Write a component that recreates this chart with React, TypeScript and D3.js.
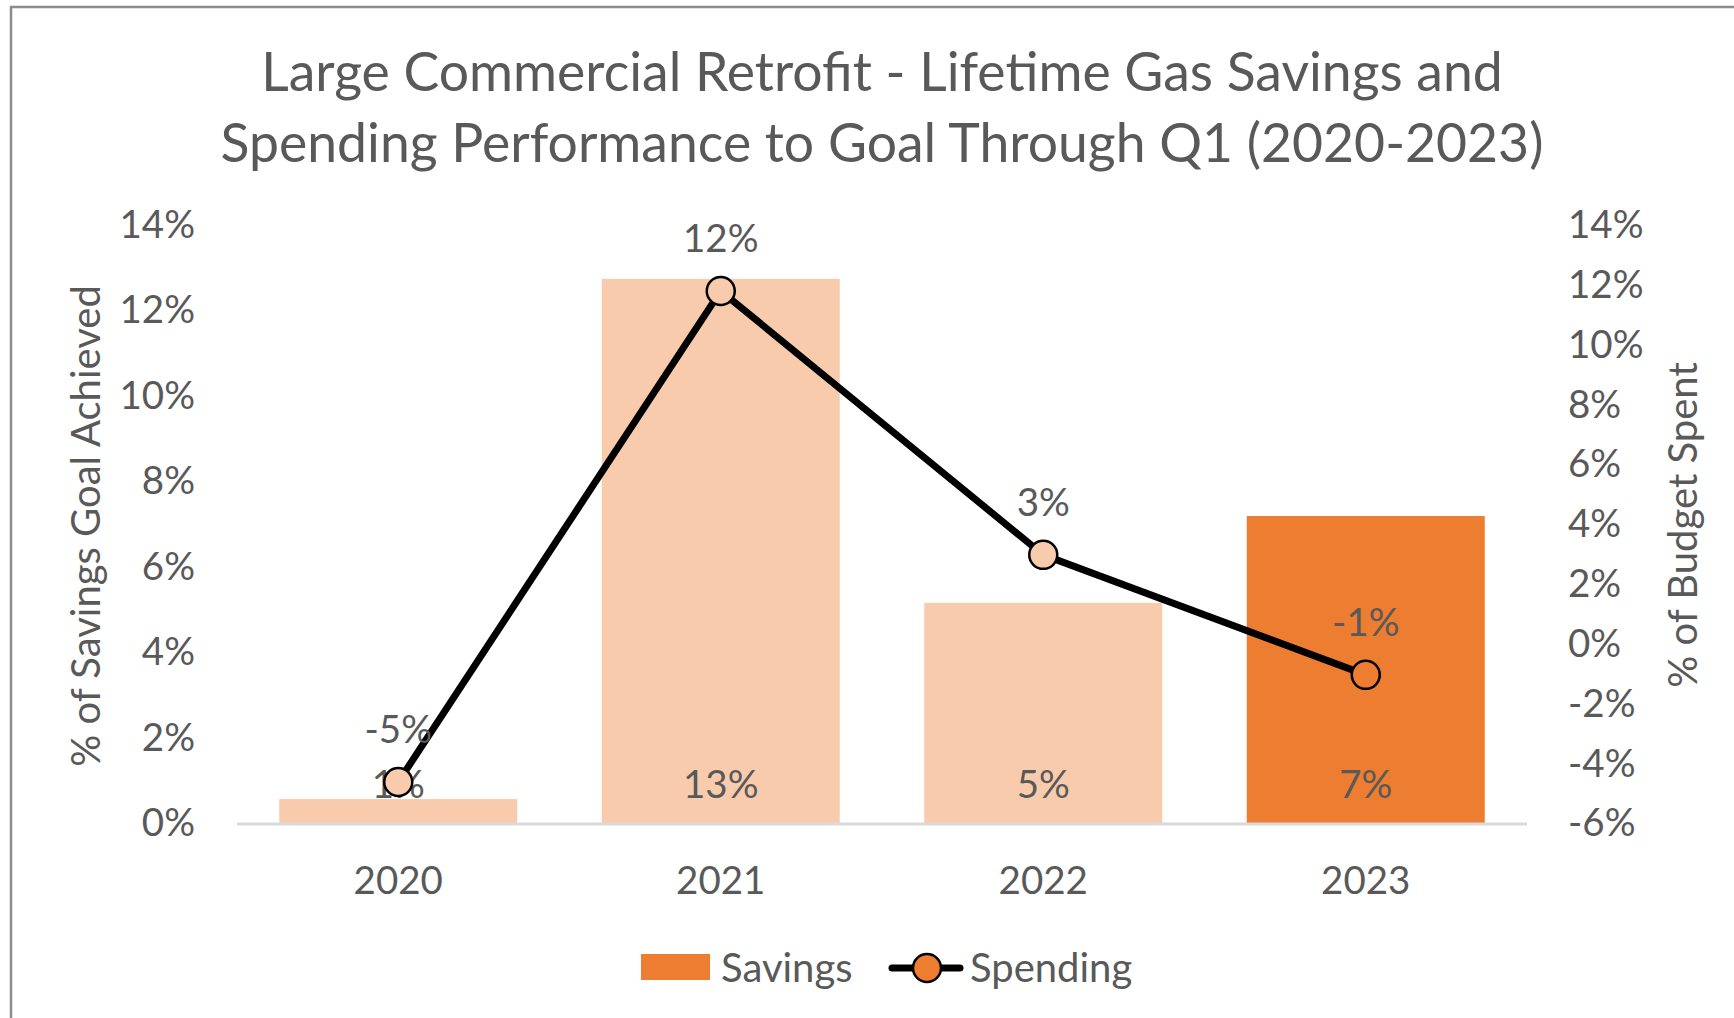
import React from "react";
import * as d3 from "d3";

const years = ["2020", "2021", "2022", "2023"];
const savings = [0.0056, 0.1273, 0.0515, 0.0718];
const savingsLabels = ["1%", "13%", "5%", "7%"];
const spending = [-0.0463, 0.1178, 0.0296, -0.0105];
const spendingLabels = ["-5%", "12%", "3%", "-1%"];
const leftTicks = [0, 0.02, 0.04, 0.06, 0.08, 0.1, 0.12, 0.14];
const rightTicks = [-0.06, -0.04, -0.02, 0, 0.02, 0.04, 0.06, 0.08, 0.1, 0.12, 0.14];
const barColors = ["#F8CBAD", "#F8CBAD", "#F8CBAD", "#ED7D31"];
const markerColors = ["#F8CBAD", "#F8CBAD", "#F8CBAD", "#ED7D31"];
const titleLines = [
  "Large Commercial Retrofit - Lifetime Gas Savings and",
  "Spending Performance to Goal Through Q1 (2020-2023)",
];

const W = 1734;
const H = 1018;
const FONT = "Lato, 'Open Sans', sans-serif";
const TEXT = "#595959";

export default function App() {
  const x0 = 237, x1 = 1527, yBottom = 823, yTop = 224.5;
  const x = d3.scaleBand<string>().domain(years).range([x0, x1]).paddingInner(0.262).paddingOuter(0.131);
  const yL = d3.scaleLinear().domain([0, 0.14]).range([yBottom, yTop]);
  const yR = d3.scaleLinear().domain([-0.06, 0.14]).range([yBottom, yTop]);
  const fmt = (v: number) => d3.format(".0%")(v).replace("\u2212", "-");
  const cx = (d: string) => (x(d) as number) + x.bandwidth() / 2;
  const line = d3.line<number>().x((_, i) => cx(years[i])).y((v) => yR(v));

  return (
    <svg width={W} height={H} style={{ position: "absolute", left: 0, top: 0, background: "#fff" }} fontFamily={FONT}>
      <rect x={0} y={0} width={W} height={H} fill="#fff" />
      <path d={`M11,${H + 5} L11,7 L${W + 5},7`} fill="none" stroke="#8c8c8c" strokeWidth={2.5} />
      {titleLines.map((t, i) => (
        <text key={i} x={882} y={91 + i * 71} textAnchor="middle" fontSize={53.5} fill={TEXT}>{t}</text>
      ))}
      {/* bars */}
      {years.map((yr, i) => (
        <rect key={yr} x={x(yr)} y={yL(savings[i])} width={x.bandwidth()} height={yBottom - yL(savings[i])} fill={barColors[i]} />
      ))}
      {/* axis line */}
      <line x1={x0} x2={x1} y1={yBottom + 1} y2={yBottom + 1} stroke="#D9D9D9" strokeWidth={3} />
      {/* left ticks */}
      {leftTicks.map((t) => (
        <text key={t} x={195} y={yL(t)} dy="0.35em" textAnchor="end" fontSize={38.5} fill={TEXT}>{fmt(t)}</text>
      ))}
      {/* right ticks */}
      {rightTicks.map((t) => (
        <text key={t} x={1568} y={yR(t)} dy="0.35em" textAnchor="start" fontSize={38.5} fill={TEXT}>{fmt(t)}</text>
      ))}
      {/* x labels */}
      {years.map((yr) => (
        <text key={yr} x={cx(yr)} y={881} dy="0.35em" textAnchor="middle" fontSize={38.5} fill={TEXT}>{yr}</text>
      ))}
      {/* axis titles */}
      <text transform={`translate(86,526) rotate(-90)`} dy="0.35em" textAnchor="middle" fontSize={40} fill={TEXT}>% of Savings Goal Achieved</text>
      <text transform={`translate(1683,525) rotate(-90)`} dy="0.35em" textAnchor="middle" fontSize={40} fill={TEXT}>% of Budget Spent</text>
      {/* bar labels */}
      {years.map((yr, i) => (
        <text key={yr} x={cx(yr)} y={785} dy="0.35em" textAnchor="middle" fontSize={38.5} fill={TEXT}>{savingsLabels[i]}</text>
      ))}
      {/* line */}
      <path d={line(spending) || ""} fill="none" stroke="#000" strokeWidth={7} strokeLinejoin="round" />
      {years.map((yr, i) => (
        <circle key={yr} cx={cx(yr)} cy={yR(spending[i])} r={14} fill={markerColors[i]} stroke="#000" strokeWidth={2.5} />
      ))}
      {years.map((yr, i) => (
        <text key={yr} x={cx(yr)} y={yR(spending[i]) - 52} dy="0.35em" textAnchor="middle" fontSize={38.5} fill={TEXT}>{spendingLabels[i]}</text>
      ))}
      {/* legend */}
      <rect x={641} y={954} width={69} height={26} fill="#ED7D31" />
      <text x={721} y={968} dy="0.35em" fontSize={40} fill={TEXT}>Savings</text>
      <line x1={892} x2={960} y1={968} y2={968} stroke="#000" strokeWidth={7} strokeLinecap="round" />
      <circle cx={927} cy={968} r={14} fill="#ED7D31" stroke="#000" strokeWidth={2.5} />
      <text x={970} y={968} dy="0.35em" fontSize={40} fill={TEXT}>Spending</text>
    </svg>
  );
}
